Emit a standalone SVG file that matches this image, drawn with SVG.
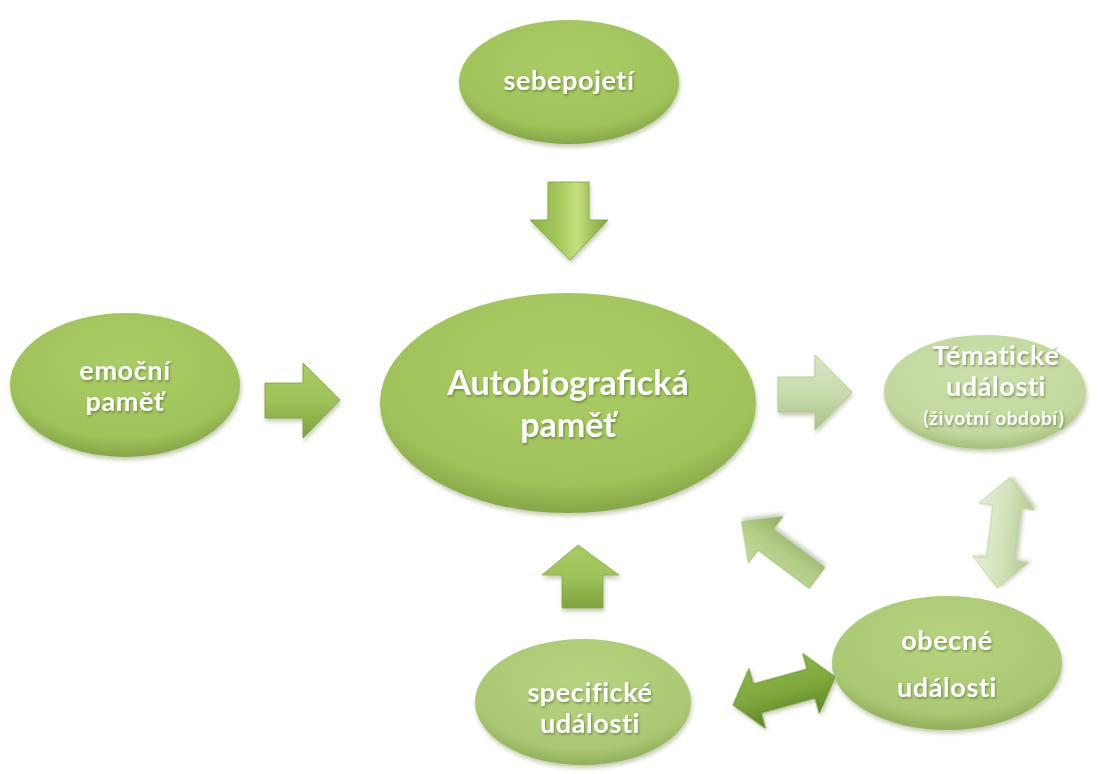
<svg xmlns="http://www.w3.org/2000/svg" width="1104" height="774" viewBox="0 0 1104 774">
<defs>
<style>
.t{font-family:Lato,"Open Sans","Liberation Sans",sans-serif;font-weight:bold;fill:#ffffff;text-anchor:middle;filter:url(#ts)}
.s{font-size:27px;letter-spacing:0.6px}
</style>
<filter id="ts" x="-10%" y="-20%" width="120%" height="150%"><feDropShadow dx="1" dy="1.5" stdDeviation="1" flood-color="#3d5214" flood-opacity="0.55"/></filter>
<filter id="sh" x="-10%" y="-10%" width="125%" height="130%"><feDropShadow dx="1" dy="3" stdDeviation="2" flood-color="#556b2f" flood-opacity="0.35"/></filter>
<radialGradient id="gA" cx="0.5" cy="0.35" r="0.65">
<stop offset="0" stop-color="#aacd66"/><stop offset="0.8" stop-color="#9fc25a"/><stop offset="1" stop-color="#86a647"/>
</radialGradient>
<radialGradient id="gB" cx="0.5" cy="0.35" r="0.65">
<stop offset="0" stop-color="#b6d37e"/><stop offset="0.8" stop-color="#abc974"/><stop offset="1" stop-color="#92b05a"/>
</radialGradient>
<radialGradient id="gC" cx="0.5" cy="0.35" r="0.65">
<stop offset="0" stop-color="#cce0ac"/><stop offset="0.8" stop-color="#c2d89d"/><stop offset="1" stop-color="#a7c07a"/>
</radialGradient>
<linearGradient id="aV" x1="0" y1="0" x2="1" y2="0">
<stop offset="0" stop-color="#8db347"/><stop offset="0.35" stop-color="#a3c75a"/><stop offset="0.6" stop-color="#c4e07c"/><stop offset="1" stop-color="#7ea23c"/>
</linearGradient>
<linearGradient id="aH" x1="0" y1="0" x2="0" y2="1">
<stop offset="0" stop-color="#a8cb5f"/><stop offset="0.5" stop-color="#9ec35a"/><stop offset="1" stop-color="#7fa23c"/>
</linearGradient>
<linearGradient id="aL" x1="0" y1="0" x2="0" y2="1">
<stop offset="0" stop-color="#d8e6c2"/><stop offset="0.5" stop-color="#c9dcae"/><stop offset="1" stop-color="#a8c283"/>
</linearGradient>
<linearGradient id="aD" x1="0" y1="0" x2="0" y2="1">
<stop offset="0" stop-color="#8ab548"/><stop offset="0.5" stop-color="#7ea83c"/><stop offset="1" stop-color="#5f8526"/>
</linearGradient>
<linearGradient id="aM" x1="0" y1="0" x2="0" y2="1">
<stop offset="0" stop-color="#c3da9c"/><stop offset="0.5" stop-color="#b2cd86"/><stop offset="1" stop-color="#8fae5f"/>
</linearGradient>
<linearGradient id="aS" x1="0" y1="0" x2="0" y2="1">
<stop offset="0" stop-color="#e6efd9"/><stop offset="0.5" stop-color="#d2e3ba"/><stop offset="1" stop-color="#b4cb91"/>
</linearGradient>
</defs>

<g id="connectors">
<polygon id="a-sebe" points="548,182 589,182 589,220 608,220 570,260 530,220 548,220" fill="url(#aV)" stroke="#7c9f3a" stroke-width="0.8" filter="url(#sh)"/>
<polygon id="a-emoc" points="265,383 303,383 303,363 340,400 303,438 303,418 265,418" fill="url(#aH)" stroke="#7c9f3a" stroke-width="0.8" filter="url(#sh)"/>
<polygon id="a-tema" points="778,377 815,377 815,355 852,392 815,430 815,412 778,412" fill="url(#aL)" stroke="#b0c78c" stroke-width="0.8" filter="url(#sh)"/>
<polygon id="a-spec" points="562,608 562,575 542,575 578,545 619,575 603,575 603,608" fill="url(#aH)" stroke="#86a84a" stroke-width="0.8" filter="url(#sh)"/>
<polygon id="a-obec" transform="translate(817,578) rotate(216.7)" points="0,-13 64,-13 64,-29 94,0 64,29 64,13 0,13" fill="url(#aM)" stroke="#9ab870" stroke-width="0.8" filter="url(#sh)"/>
<polygon id="a-vert" transform="translate(997,588) rotate(-83.3)" points="0,0 29,-28 29,-14 82,-14 82,-28 111,0 82,28 82,14 29,14 29,28" fill="url(#aS)" stroke="#b4cb90" stroke-width="0.8" filter="url(#sh)"/>
<polygon id="a-horiz" transform="translate(733,705) rotate(-15.4)" points="0,0 25,-31 25,-15 81,-15 81,-31 106,0 81,31 81,15 25,15 25,31" fill="url(#aD)" stroke="#5f8526" stroke-width="0.8" filter="url(#sh)"/>
</g>

<g id="node-sebepojeti">
<ellipse cx="569" cy="82" rx="110" ry="62" fill="url(#gA)" filter="url(#sh)"/>
<text class="t s" x="569" y="90">sebepojetí</text>
</g>

<g id="node-autobio">
<ellipse cx="568" cy="403" rx="188" ry="110" fill="url(#gA)" filter="url(#sh)"/>
<text class="t" x="568" y="395" font-size="34">Autobiografická</text>
<text class="t" x="568" y="437" font-size="34">paměť</text>
</g>

<g id="node-emocni">
<ellipse cx="125" cy="385" rx="115" ry="72" fill="url(#gA)" filter="url(#sh)"/>
<text class="t s" x="125" y="380">emoční</text>
<text class="t s" x="125" y="411">paměť</text>
</g>

<g id="node-tematicke">
<ellipse cx="985" cy="392" rx="101" ry="57" fill="url(#gC)" filter="url(#sh)"/>
<text class="t s" x="996" y="365">Tématické</text>
<text class="t s" x="996" y="396">události</text>
<text class="t" x="994" y="425" font-size="19" letter-spacing="0.6">(životní období)</text>
</g>

<g id="node-obecne">
<ellipse cx="947" cy="663" rx="115" ry="67" fill="url(#gB)" filter="url(#sh)"/>
<text class="t s" x="947" y="650">obecné</text>
<text class="t s" x="947" y="697">události</text>
</g>

<g id="node-specificke">
<ellipse cx="583" cy="702" rx="108" ry="63" fill="url(#gB)" filter="url(#sh)"/>
<text class="t s" x="590" y="702">specifické</text>
<text class="t s" x="590" y="733">události</text>
</g>
</svg>
